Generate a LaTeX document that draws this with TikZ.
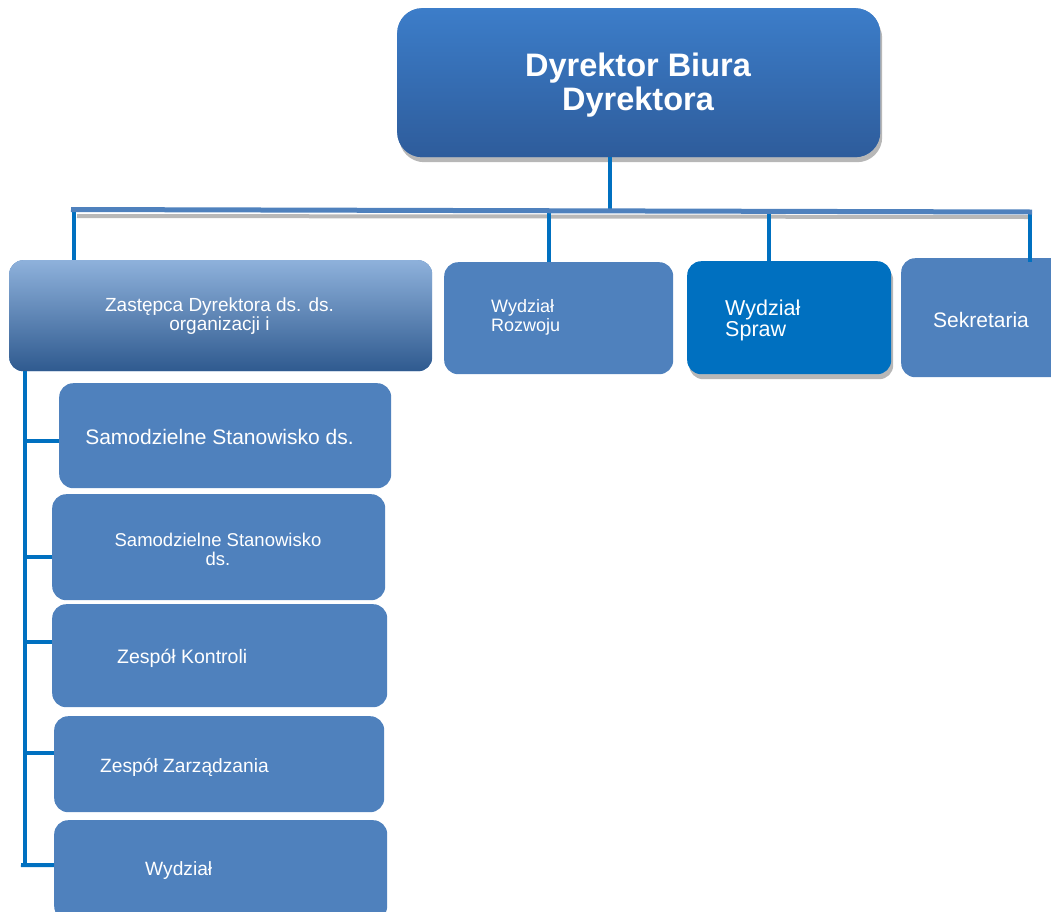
\documentclass[tikz,border=0pt]{standalone}
\usepackage{fontspec}
\setmainfont{Liberation Sans}
\usetikzlibrary{shadows}
\definecolor{topTop}{HTML}{3C7DC9}
\definecolor{topBot}{HTML}{2E5C9B}
\definecolor{zTop}{HTML}{8EB1DB}
\definecolor{zBot}{HTML}{2F5A8F}
\definecolor{unitBlue}{HTML}{4F81BD}
\definecolor{sprawBlue}{HTML}{0070C0}
\definecolor{lineBlue}{HTML}{0070C0}
\definecolor{busBlue}{HTML}{4F81BD}
\tikzset{
  unit/.style={rounded corners=14pt, fill=unitBlue, draw=none, inner sep=0pt, anchor=north west},
  vline/.style={draw=lineBlue, line width=4pt},
  lbl/.style={text=white, inner sep=0pt},
  sh/.style={drop shadow={shadow xshift=2pt, shadow yshift=-5pt, fill=black!40, opacity=0.7}},
}
\begin{document}
\begin{tikzpicture}[x=1pt,y=-1pt]
\useasboundingbox (0,0) rectangle (1051,911);
\clip (0,0) rectangle (1051,911);

% boxes
\node[unit, sh, rounded corners=25pt, top color=topTop, bottom color=topBot,
      minimum width=483pt, minimum height=149pt] (top) at (397,8) {};
\node[unit, rounded corners=14pt, top color=zTop, bottom color=zBot,
      minimum width=423pt, minimum height=111pt] (zast) at (9,260) {};
\node[unit, minimum width=229pt, minimum height=112pt] (rozw) at (444,262) {};
\node[unit, sh, fill=sprawBlue, minimum width=204pt, minimum height=113pt] (spraw) at (687,261) {};
\node[unit, minimum width=170pt, minimum height=119pt] (sekr) at (901,258) {};
\node[unit, minimum width=332pt, minimum height=105pt] (b1) at (59,383) {};
\node[unit, minimum width=333pt, minimum height=106pt] (b2) at (52,494) {};
\node[unit, minimum width=335pt, minimum height=103pt] (b3) at (52,604) {};
\node[unit, minimum width=330pt, minimum height=96pt] (b4) at (54,716) {};
\node[unit, minimum width=333pt, minimum height=100pt] (b5) at (54,820) {};

% texts
\node[lbl, align=center, font=\fontsize{32.5}{34}\selectfont\bfseries] (topT) at (638,85) {Dyrektor Biura\\Dyrektora};
\node[lbl, align=center, font=\fontsize{19}{19.5}\selectfont] (zastT) at (219.5,316) {Zastępca Dyrektora ds. ds.\\organizacji i};
\node[lbl, align=left, anchor=west, font=\fontsize{18}{19}\selectfont] (rozwT) at (491,317.5) {Wydział\\Rozwoju};
\node[lbl, align=left, anchor=west, font=\fontsize{21.5}{21}\selectfont] (sprawT) at (725,320) {Wydział\\Spraw};
\node[lbl, anchor=base, font=\fontsize{21}{22}\selectfont] (sekrT) at (981,327) {Sekretaria};
\node[lbl, anchor=base, font=\fontsize{21}{22}\selectfont] (b1T) at (219.5,444) {Samodzielne Stanowisko ds.};
\node[lbl, align=center, font=\fontsize{18.5}{19}\selectfont] (b2T) at (218,549) {Samodzielne Stanowisko\\ds.};
\node[lbl, anchor=base west, font=\fontsize{19.5}{20}\selectfont] (b3T) at (117,663) {Zespół Kontroli};
\node[lbl, anchor=base west, font=\fontsize{19.2}{20}\selectfont] (b4T) at (100,772) {Zespół Zarządzania};
\node[lbl, anchor=base west, font=\fontsize{19.2}{20}\selectfont] (b5T) at (145,875) {Wydział};

% bus
\coordinate (j1) at (74,211);
\coordinate (j2) at (549,211);
\coordinate (j3) at (610,211);
\coordinate (j4) at (769,211);
\coordinate (j5) at (1030,211);
\draw[black!28, line width=4pt] (77,216) -- (1030,217);
\draw[vline] (top.south -| j3) -- (j3);
\draw[vline] (j1) -- (zast.north -| j1);
\draw[vline] (j2) -- (rozw.north -| j2);
\draw[vline] (j4) -- (spraw.north -| j4);
\draw[vline] (j5) -- ([yshift=-4pt]sekr.north -| j5);
\draw[busBlue, line width=5pt] (71,209.5) -- (1032,212);

% spine
\coordinate (spineTop) at (24.5,371);
\coordinate (spineBot) at (21,865);
\draw[vline] (spineTop) -- (spineTop |- spineBot);
\draw[vline] ([yshift=-5.5pt]b1.west) -| (spineTop);
\draw[vline] ([yshift=-10pt]b2.west) -| (spineTop);
\draw[vline] ([yshift=13.5pt]b3.west) -| (spineTop);
\draw[vline] ([yshift=11pt]b4.west) -| (spineTop);
\draw[vline] ([yshift=5pt]b5.west) -- (spineBot);
\end{tikzpicture}
\end{document}
